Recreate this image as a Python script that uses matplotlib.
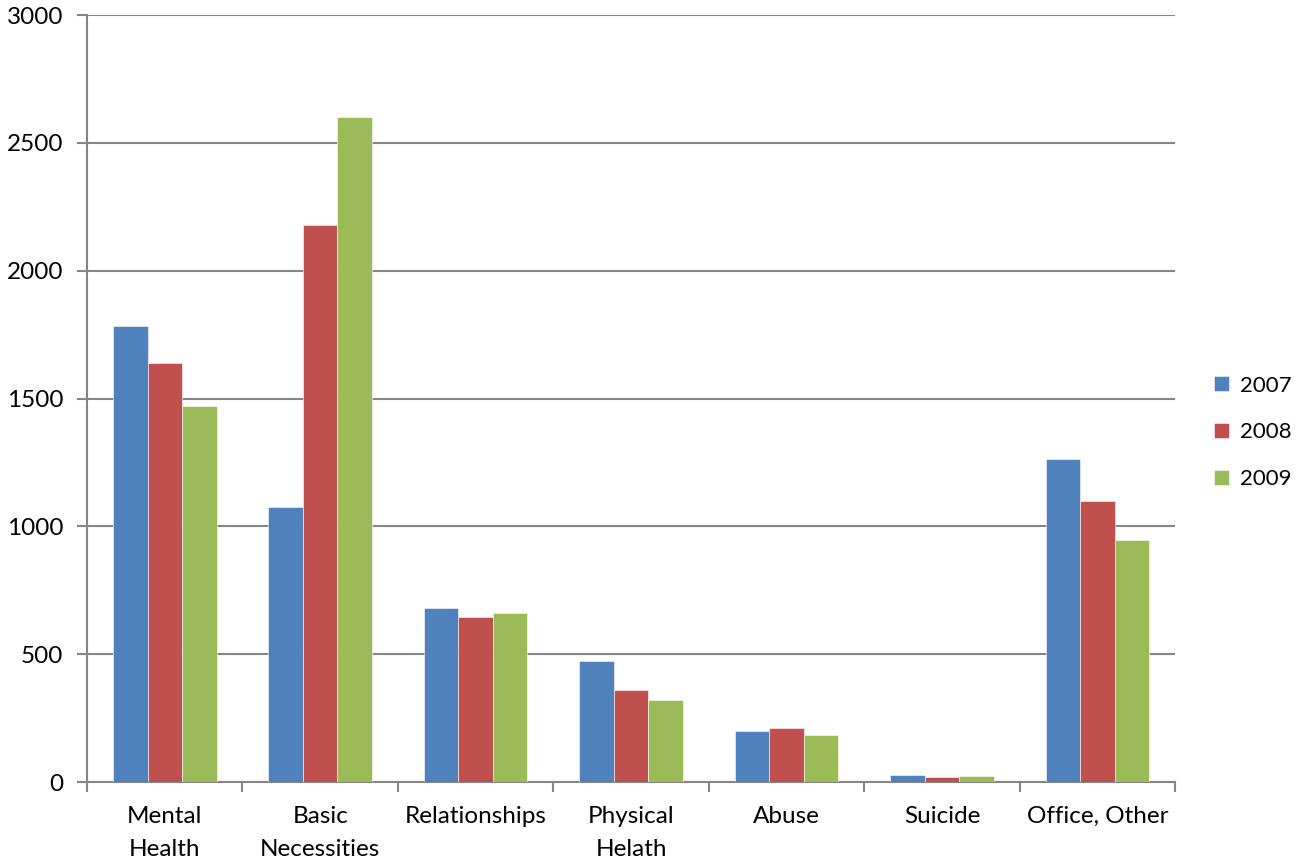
import matplotlib.pyplot as plt
import numpy as np

plt.rcParams['font.family'] = ['Lato', 'DejaVu Sans']

categories = ['Mental\nHealth', 'Basic\nNecessities', 'Relationships', 'Physical\nHelath',
              'Abuse', 'Suicide', 'Office, Other']
years = ['2007', '2008', '2009']
v2007 = [1785, 1076, 681, 472, 198, 29, 1263]
v2008 = [1638, 2180, 647, 358, 213, 20, 1100]
v2009 = [1472, 2600, 662, 321, 182, 24, 947]
colors = ['#4F81BD', '#C0504D', '#9BBB59']

fig = plt.figure(figsize=(12.97, 8.64), dpi=100)
ax = fig.add_axes([0.0671, 0.0949, 0.839, 0.8877])

x = np.arange(len(categories))
w = 0.222
for i, (vals, c, lab) in enumerate(zip([v2007, v2008, v2009], colors, years)):
    ax.bar(x + (i - 1) * w, vals, w, color=c, label=lab, edgecolor='white',
           linewidth=0.4, zorder=3)

grid_c = '#868686'
fs = 17.5
ax.set_ylim(0, 3000)
ax.set_xlim(-0.5, len(categories) - 0.5)
ax.set_yticks(range(0, 3001, 500))
ax.yaxis.grid(True, color=grid_c, linewidth=1.5, zorder=0)
ax.set_axisbelow(True)

ax.set_xticks(x)
ax.set_xticklabels(categories, fontsize=fs, linespacing=1.7)
ax.set_xticks(np.arange(-0.5, len(categories), 1), minor=True)
ax.tick_params(axis='x', which='major', length=0, pad=17)
ax.tick_params(axis='x', which='minor', length=7, width=1.5, color=grid_c, direction='out')
ax.tick_params(axis='y', length=7, width=1.5, color=grid_c, labelsize=fs, pad=10)

for s in ['top', 'right']:
    ax.spines[s].set_visible(False)
for s in ['left', 'bottom']:
    ax.spines[s].set_color(grid_c)
    ax.spines[s].set_linewidth(1.5)

ax.legend(loc='center left', bbox_to_anchor=(1.0176, 0.456), frameon=False, fontsize=16,
          handlelength=0.65, handleheight=0.65, handletextpad=0.5, labelspacing=1.2)

fig.savefig('out.png', dpi=100)
